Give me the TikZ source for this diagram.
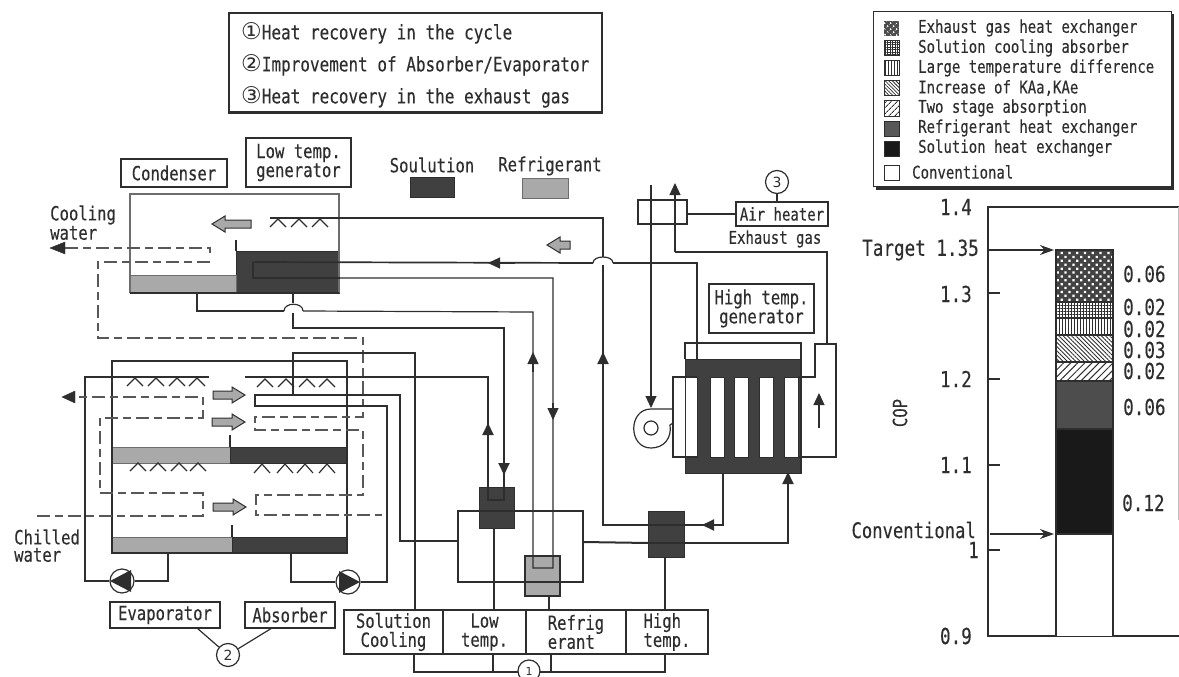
\documentclass[tikz,border=0pt]{standalone}
\usepackage{fontspec}
\usetikzlibrary{arrows.meta,patterns.meta,patterns}
\newfontfamily\gothic[FakeStretch=0.8,FakeBold=0.25]{DejaVu Sans Mono}
\newfontfamily\symfont{DejaVu Sans}
\definecolor{ink}{HTML}{2E2E2E}
\definecolor{solcol}{HTML}{404040}
\definecolor{refcol}{HTML}{A9A9A9}
\tikzset{
  thin line/.style={draw=ink,line width=1.2pt},
  thick line/.style={draw=ink,line width=2pt},
  dash line/.style={draw=ink!80,line width=1.2pt,dash pattern=on 13pt off 5pt on 8pt off 5pt},
  arr/.style={-{Triangle[length=12pt,width=11pt,fill=ink]}},
  txt/.style={font=\gothic\fontsize{19.5}{20}\selectfont,text=ink,inner sep=0pt,align=center},
  txtn/.style={font=\gothic\fontsize{20}{20}\selectfont,text=ink,inner sep=0pt},
  txts/.style={font=\gothic\fontsize{17.5}{20}\selectfont,text=ink,inner sep=0pt,align=left},
  txtb/.style={font=\gothic\fontsize{22}{24}\selectfont,text=ink,inner sep=0pt},
  labelbox/.style={txt,draw=ink,line width=1.2pt,fill=white},
  circ/.style={circle,draw=ink,line width=1.2pt,fill=white,minimum size=23pt,inner sep=0pt,font=\symfont\fontsize{14}{14}\selectfont,text=ink},
  sol/.style={fill=solcol,draw=ink,line width=1pt},
  refr/.style={fill=refcol,draw=ink!70,line width=1pt},
  gray arrow/.style={fill=refcol,draw=ink,line width=1pt},
  swatch/.style={draw=ink,line width=1pt},
}
\newcommand{\grayR}[3]{% x1 x2 y
  \draw[gray arrow] (#1,#3-4) -- (#2-13,#3-4) -- (#2-13,#3-8) -- (#2,#3) -- (#2-13,#3+8) -- (#2-13,#3+4) -- (#1,#3+4) -- cycle;}
\newcommand{\grayL}[3]{% x1 x2 y
  \draw[gray arrow] (#2,#3-4) -- (#1+13,#3-4) -- (#1+13,#3-8) -- (#1,#3) -- (#1+13,#3+8) -- (#1+13,#3+4) -- (#2,#3+4) -- cycle;}
\newcommand{\caret}[3]{\draw[thin line] (#1-8,#3) -- (#1,#2) -- (#1+8,#3);}
\newcommand{\bigsym}[1]{{\symfont\fontsize{23}{20}\selectfont #1}}
\begin{document}
\begin{tikzpicture}[x=1pt,y=-1pt]
\useasboundingbox (0,0) rectangle (1179,677);

% ---- top note box
\node[draw=ink,line width=2pt,minimum width=373pt,minimum height=99pt] (note) at (415.5,63) {};
\node[txtn,anchor=west] (n1) at (241,33) {\bigsym{①}Heat recovery in the cycle};
\node[txtn,anchor=west] (n2) at (241,65) {\bigsym{②}Improvement of Absorber/Evaporator};
\node[txtn,anchor=west] (n3) at (241,97) {\bigsym{③}Heat recovery in the exhaust gas};

% ---- condenser / LT generator vessel
\draw[sol] (236,251) rectangle (339,293);
\draw[refr] (130,275) rectangle (236,293);
\draw[thin line,draw=ink!70] (130,293) -- (130,194) -- (339,194) -- (339,293);
\draw[thin line] (236,251) -- (236,240);
\draw[thin line] (130,293) -- (339,293);
\foreach \x in {278,299,320} {\caret{\x}{219}{227}}
\grayL{212}{251}{224}
\node[labelbox,minimum width=106pt,minimum height=28pt] (cond) at (174,173) {Condenser};
\node[labelbox,minimum width=105pt,minimum height=49pt] (ltg) at (298.5,162.5) {Low temp.\\[-1pt]generator};
\node[txt,anchor=west] (cw) at (50,215) {Cooling};
\node[txt,anchor=west] (cw2) at (50,233) {water};

% ---- evaporator / absorber vessel
\draw[refr] (112,447) rectangle (230,463);
\draw[sol] (230,447) rectangle (347,463);
\draw[refr] (112,537) rectangle (232,553);
\draw[sol] (232,537) rectangle (347,553);
\draw[thick line] (112,361) rectangle (347,553);
\draw[thin line] (230,447) -- (230,435);
\draw[thin line] (232,537) -- (232,525);
\foreach \x in {135,156,177,197} {\caret{\x}{378}{386}}
\foreach \x in {265,286,307,327} {\caret{\x}{379}{387}}
\foreach \x in {138,158,179,198} {\caret{\x}{463}{471}}
\foreach \x in {262,285,305,327} {\caret{\x}{464}{473}}
\grayR{213}{245}{395}
\grayR{212}{245}{422}
\grayR{213}{246}{507}

% ---- evaporator refrigerant circuit
\node[circle,draw=ink,line width=1.2pt,minimum size=24pt,inner sep=0pt] (pe) at (122,581) {};
\node[circle,draw=ink,line width=1.2pt,minimum size=24pt,inner sep=0pt] (pa) at (348,582) {};
\fill[ink] (110,581) -- (131,570) -- (131,592) -- cycle;
\fill[ink] (360,582) -- (339,571) -- (339,593) -- cycle;
\draw[thin line] (209,377) -- (85,377) -- (85,581) -- (pe.west);
\draw[thin line] (pe.east) -- (168,581) -- (168,553);
\draw[thick line] (291,553) -- (291,582) -- (pa.west);

% ---- water lines
\draw[dash line] (65,248) -- (210,248) -- (210,257);
\draw[ink,fill=ink] (50,248) -- (65,242) -- (65,254) -- cycle;
\draw[dash line] (210,262) -- (98,262) -- (98,338) -- (363,338) -- (363,417) -- (255,417) -- (255,430) -- (363,430) -- (363,495) -- (256,495) -- (256,515) -- (382,515);
\draw[dash line] (37,516) -- (203,516) -- (203,493) -- (100,493) -- (100,418) -- (203,418) -- (203,397) -- (74,397);
\draw[ink,fill=ink] (62,397) -- (75,391) -- (75,403) -- cycle;
\node[txt,anchor=west] (chw) at (14,537) {Chilled};
\node[txt,anchor=west] (chw2) at (14,555) {water};

% ---- heat-exchanger boxes (drawn below pipes)
\draw[sol] (479,487) rectangle (514,528);
\draw[sol] (648,511) rectangle (684,557);
\draw[refr,draw=ink,line width=1.6pt] (525,556) rectangle (560,596);

% ---- coil in solution-cooled absorber
\draw[thin line] (293,395) -- (293,353) -- (415,353) -- (415,610);
\draw[thick line] (400,542) -- (400,395) -- (255,395) -- (255,406) -- (387,406) -- (387,582) -- (pa.east);
\draw[thick line] (400,541) -- (458,541);

% ---- low-temperature exchanger rectangle
\draw[thick line] (458,511) rectangle (583,582);
\draw[thick line] (583,542) -- (648,543);
\draw[thick line] (648,543) -- (788,543) -- (788,482);
\draw[thick line,arr] (788,490) -- (788,472);

% ---- solution paths
\draw[line width=1.7pt,draw=ink] (270,218) -- (603,218) -- (603,257);
\draw[thin line] (593,263) .. controls (593,255) and (613,255) .. (613,263);
\draw[thick line] (603,265) -- (603,525) -- (723,525) -- (723,472);
\draw[thick line,arr] (603,372) -- (603,352);
\draw[thick line,arr] (718,525) -- (702,525);

\draw[line width=1.7pt,draw=ink] (253,262) -- (593,263);
\draw[thin line] (613,263) -- (697,263) -- (697,360);
\draw[thick line] (253,262) -- (253,278) -- (340,278);
\draw[thin line] (340,278) -- (553,278) -- (553,568) -- (533,568) -- (533,312) -- (303,311);
\draw[thin line] (284,311) -- (197,311) -- (197,293);
\draw[thin line] (284,311) .. controls (284,302) and (303,302) .. (303,311);
\draw[thick line] (293,293) -- (293,303);
\draw[thick line] (293,313) -- (293,328) -- (504,328) -- (504,500) -- (488,500) -- (488,377) -- (245,377);
\draw[thick line,arr] (488,440) -- (488,423);
\draw[thick line,arr] (504,458) -- (504,475);
\draw[thin line,arr] (533,372) -- (533,352);
\draw[thin line,arr] (553,403) -- (553,420);
\draw[thin line,arr] (515,263) -- (488,263);

% ---- exchanger outlets to table
\draw[thin line] (494,528) -- (494,610);
\draw[thin line] (549,596) -- (549,610);
\draw[thin line] (665,557) -- (665,610);

% ---- legend solution/refrigerant
\node[txt] (sollab) at (432,165) {Soulution};
\node[txt] (reflab) at (550,166) {Refrigerant};
\draw[sol] (410,177) rectangle (454,197);
\draw[refr] (522,178) rectangle (568,198);
\grayL{547}{570}{245}

% ---- air heater
\draw[thick line] (638,200) rectangle (687,224);
\node[labelbox,txts,align=center,minimum width=92pt,minimum height=24pt] (airh) at (782,214) {Air heater};
\node[circ] (c3) at (777,182) {3};
\draw[thin line] (c3) -- (airh.north -| c3);
\draw[thin line] (687,214) -- (airh.west);
\node[txts] (exh) at (775,239) {Exhaust gas};
\draw[thin line,arr] (651,185) -- (651,408);
\draw[thin line,arr] (675,252) -- (675,183);
\draw[thin line] (675,252) -- (827,252) -- (827,343);
\node[labelbox,minimum width=105pt,minimum height=49pt] (htg) at (761.5,308.5) {High temp.\\[-1pt]generator};

% ---- high temperature generator
\draw[fill=solcol,draw=ink,line width=1pt] (685,359) rectangle (801,473);
\foreach \a/\b in {685/697,710/724,734/748,759/773,784/798} {\draw[fill=white,draw=ink,line width=1pt] (\a,377) rectangle (\b,457);}
\draw[thick line] (685,359) -- (685,343) -- (801,343) -- (801,473);
\draw[thin line] (697,263) -- (697,360);
\draw[thin line] (697,377) -- (673,377) -- (673,457) -- (697,457);
\draw[thin line] (798,377) -- (815,377) -- (815,344) -- (836,344) -- (836,457) -- (798,457);
\draw[thin line,arr] (819,428) -- (819,393);
\draw[thin line] (673,409) -- (651,409) .. controls (628,409) and (628,448) .. (651,448) .. controls (664,448) and (672,438) .. (670,425) -- (673,423);
\draw[thin line] (651,428) circle[radius=7];

% ---- bottom table
\node[labelbox,minimum width=99pt,minimum height=44pt] (tsc) at (393.5,632) {Solution\\[-1pt]Cooling};
\node[labelbox,minimum width=83pt,minimum height=44pt] (tlt) at (484.5,632) {Low\\[-1pt]temp.};
\node[labelbox,minimum width=100pt,minimum height=44pt,align=left] (trf) at (576,632) {Refrig\\[-1pt]erant};
\node[labelbox,minimum width=82pt,minimum height=44pt,align=left] (tht) at (667,632) {High\\[-1pt]temp.};
\draw[thin line] (414,654) -- (414,672) -- (665,672) -- (665,654);
\draw[thin line] (493,654) -- (493,672);
\draw[thin line] (551,654) -- (551,672);
\node[circ,minimum size=22pt,font=\symfont\fontsize{11}{11}\selectfont] (c1) at (529,671) {1};

% ---- evaporator / absorber labels
\node[labelbox,minimum width=110pt,minimum height=26pt] (evap) at (165,615) {Evaporator};
\node[labelbox,minimum width=90pt,minimum height=26pt] (abso) at (290,615) {Absorber};
\node[circ] (c2) at (228,655) {2};
\draw[thin line] (197,628) -- (c2);
\draw[thin line] (272,628) -- (c2);

% ---- chart legend
\fill[ink] (876,14) rectangle (1174,190);
\node[draw=ink,line width=1pt,fill=white,minimum width=298pt,minimum height=175pt,anchor=north west] (leg) at (873,11) {};
\foreach \y/\t in {28/Exhaust gas heat exchanger,48/Solution cooling absorber,68/Large temperature difference,88/Increase of KAa{,}KAe,108/Two stage absorption,128/Refrigerant heat exchanger,148/Solution heat exchanger} {
  \node[txts,anchor=west] at (918,\y) {\t};
}
\node[txts,anchor=west] (lc) at (912,172) {Conventional};
\fill[ink!85] (884,21) rectangle (899,36);
\fill[pattern={Dots[radius=1.1pt,distance=4pt,angle=45]},pattern color=white] (884,21) rectangle (899,36);
\draw[swatch,fill=white] (884,41) rectangle (899,56);
\fill[pattern={Lines[angle=0,distance=2.5pt,line width=.7pt]},pattern color=ink] (884,41) rectangle (899,56);
\fill[pattern={Lines[angle=90,distance=2.5pt,line width=.7pt]},pattern color=ink] (884,41) rectangle (899,56);
\draw[swatch,pattern={Lines[angle=90,distance=3pt,line width=.9pt]},pattern color=ink] (884,61) rectangle (899,76);
\draw[swatch,pattern={Lines[angle=-45,distance=2.5pt,line width=.8pt]},pattern color=ink] (884,81) rectangle (899,96);
\draw[swatch,pattern={Lines[angle=45,distance=4pt,line width=.9pt]},pattern color=ink] (884,101) rectangle (899,116);
\draw[swatch,fill=ink!80] (884,121) rectangle (899,136);
\draw[swatch,fill=black!90] (884,141) rectangle (899,156);
\draw[swatch,fill=white] (884,165) rectangle (899,180);

% ---- chart
\draw[thin line] (1179,207) -- (988,207) -- (988,636) -- (1179,636);
\draw[line width=.6pt,draw=black!25] (1178.5,207) -- (1178.5,520);
\foreach \y in {293,379,465,550} {\draw[thick line] (988,\y) -- (1000,\y);}
\node[txtb,anchor=east] (t14) at (972,207) {1.4};
\node[txtb,anchor=east] (t135) at (979,250) {Target 1.35};
\node[txtb,anchor=east] (t13) at (972,294) {1.3};
\node[txtb,anchor=east] (t12) at (972,379) {1.2};
\node[txtb,anchor=east] (t11) at (972,465) {1.1};
\node[txtb,anchor=east] (t10) at (979,550) {1};
\node[txt,font=\gothic\fontsize{21.5}{24}\selectfont,anchor=east] (tcv) at (976,530) {Conventional};
\node[txtb,anchor=east] (t09) at (972,636) {0.9};
\node[txt,rotate=90] (cop) at (900,413) {COP};

% bar
\fill[white] (1056,534) rectangle (1113,636);
\fill[black!90] (1056,429) rectangle (1113,534);
\fill[ink!85] (1056,381) rectangle (1113,429);
\fill[pattern={Lines[angle=45,distance=5pt,line width=1pt]},pattern color=ink] (1056,362) rectangle (1113,381);
\fill[pattern={Lines[angle=-45,distance=3pt,line width=.9pt]},pattern color=ink] (1056,335) rectangle (1113,362);
\fill[pattern={Lines[angle=90,distance=3pt,line width=1pt]},pattern color=ink] (1056,318) rectangle (1113,335);
\fill[pattern={Lines[angle=0,distance=3pt,line width=.7pt]},pattern color=ink] (1056,302) rectangle (1113,318);
\fill[pattern={Lines[angle=90,distance=3pt,line width=.7pt]},pattern color=ink] (1056,302) rectangle (1113,318);
\fill[ink!90] (1056,250) rectangle (1113,302);
\fill[pattern={Dots[radius=1.6pt,distance=5.5pt,angle=45]},pattern color=white] (1056,250) rectangle (1113,302);
\draw[thin line] (1056,636) -- (1056,250) -- (1113,250) -- (1113,636);
\foreach \y in {302,318,335,362,381,429,534} {\draw[thin line] (1056,\y) -- (1113,\y);}
\coordinate (ta) at (988,250);
\coordinate (tb) at (1054,250);
\coordinate (ca) at (990,534);
\coordinate (cb) at (1054,534);
\draw[thin line,-{Stealth[length=14pt,width=10pt,fill=ink]}] (ta) -- (tb);
\draw[thin line,-{Stealth[length=14pt,width=10pt,fill=ink]}] (ca) -- (cb);
\node[txtb,anchor=west] (v1) at (1123,274) {0.06};
\node[txtb,anchor=west] (v2) at (1123,307) {0.02};
\node[txtb,anchor=west] (v3) at (1123,329) {0.02};
\node[txtb,anchor=west] (v4) at (1123,350) {0.03};
\node[txtb,anchor=west] (v5) at (1123,371) {0.02};
\node[txtb,anchor=west] (v6) at (1123,407) {0.06};
\node[txtb,anchor=west] (v7) at (1122,503) {0.12};
\end{tikzpicture}
\end{document}
